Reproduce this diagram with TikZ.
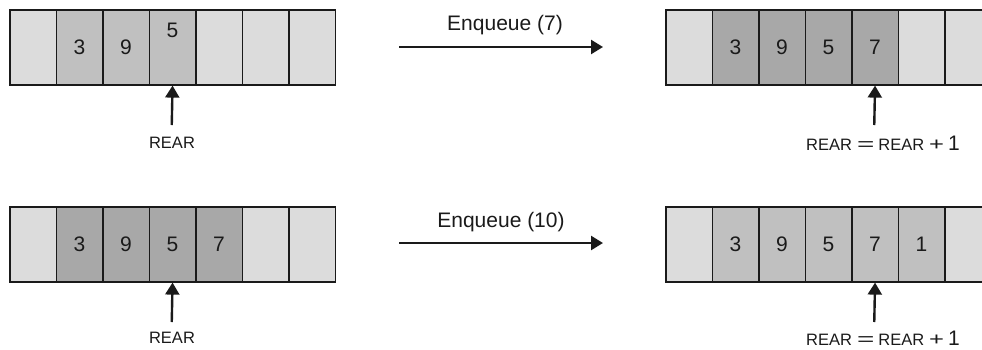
\documentclass[tikz,border=0pt]{standalone}
\usepackage{fontspec}
\usepackage{graphicx}
\setmainfont{Liberation Sans}
\usetikzlibrary{arrows.meta}
\definecolor{clight}{HTML}{DCDCDC}
\definecolor{cmid}{HTML}{C0C0C0}
\definecolor{cdark}{HTML}{A8A8A8}
\definecolor{ink}{HTML}{1A1A1A}
\newcommand{\rearinc}{REAR\hspace{5pt}\scalebox{1.8}[1.1]{=}\hspace{4pt}REAR\hspace{5pt}\scalebox{1.55}[1.1]{+}\hspace{4pt}{\fontsize{21}{25}\selectfont 1}}
\begin{document}
\begin{tikzpicture}[x=1pt,y=-1pt,
  cell/.style={draw=ink, line width=1.6pt, minimum width=46.5pt, minimum height=75pt,
    inner sep=0pt, font=\fontsize{21}{25}\selectfont, text=ink, anchor=north west},
  num/.style={inner sep=0pt, font=\fontsize{21}{25}\selectfont, text=ink},
  lbl/.style={inner sep=0pt, font=\fontsize{16.5}{20}\selectfont, text=ink},
  elbl/.style={inner sep=0pt, font=\fontsize{21}{25}\selectfont, text=ink},
  uparrow/.style={draw=ink, line width=2.4pt, -{Triangle[length=12pt,width=14pt]}},
  harrow/.style={draw=ink, line width=2.4pt, -{Triangle[length=12pt,width=14pt]}}]
\clip (0,0) rectangle (982,349);
\useasboundingbox (0,0) rectangle (982,349);
% top-left array
\foreach \c/\t [count=\i] in {clight/,cmid/3,cmid/9,cmid/,clight/,clight/,clight/}
  \node[cell,fill=\c] (tl\i) at ({9+46.5*(\i-1)},9) {\t};
\node[num] (tlfive) at ([yshift=16.5pt]tl4.center) {5};
% top-right array
\foreach \c/\t [count=\i] in {clight/,cdark/3,cdark/9,cdark/5,cdark/7,clight/,clight/}
  \node[cell,fill=\c] (tr\i) at ({665+46.5*(\i-1)},9) {\t};
% bottom-left array
\foreach \c/\t [count=\i] in {clight/,cdark/3,cdark/9,cdark/5,cdark/7,clight/,clight/}
  \node[cell,fill=\c] (bl\i) at ({9+46.5*(\i-1)},206) {\t};
% bottom-right array
\foreach \c/\t [count=\i] in {clight/,cmid/3,cmid/9,cmid/5,cmid/7,cmid/1,clight/}
  \node[cell,fill=\c] (br\i) at ({665+46.5*(\i-1)},206) {\t};
% REAR pointers
\coordinate (tlp) at (171.75,125);
\draw[uparrow] (tlp) -- (tl4.south);
\node[lbl] (tlrear) at (172,143) {REAR};
\coordinate (trp) at (874.25,125);
\draw[uparrow] (trp) -- (tr5.south);
\node[lbl,anchor=west] (trrear) at (806,143) {\rearinc};
\coordinate (blp) at (171.75,322);
\draw[uparrow] (blp) -- (bl4.south);
\node[lbl] (blrear) at (172,338) {REAR};
\coordinate (brp) at (874.25,322);
\draw[uparrow] (brp) -- (br5.south);
\node[lbl,anchor=west] (brrear) at (806,338) {\rearinc};
% Enqueue arrows
\coordinate (e1s) at (399,47);
\coordinate (e1e) at (603,47);
\draw[harrow] (e1s) -- (e1e);
\node[elbl] (e1lbl) at (505,25) {Enqueue (7)};
\coordinate (e2s) at (399,243);
\coordinate (e2e) at (603,243);
\draw[harrow] (e2s) -- (e2e);
\node[elbl] (e2lbl) at (501,222) {Enqueue (10)};
\end{tikzpicture}
\end{document}
